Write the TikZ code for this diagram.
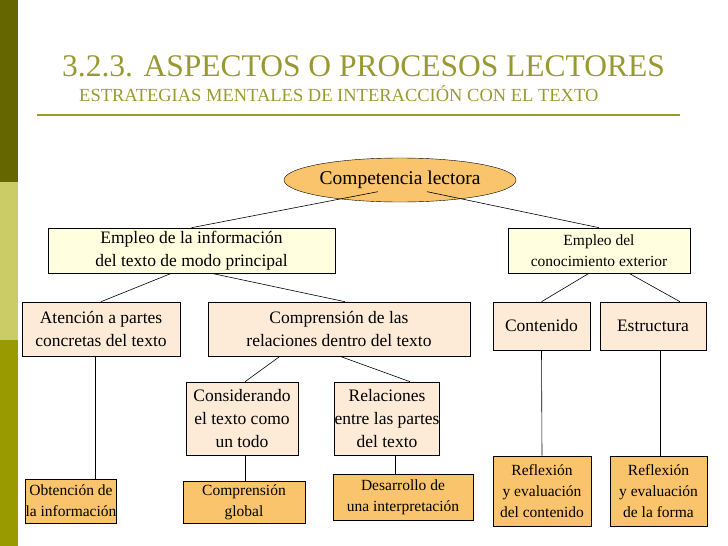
\documentclass[tikz,border=0pt]{standalone}
\usepackage{fontspec}
\setmainfont{Liberation Serif}
\usetikzlibrary{shapes.geometric}
\definecolor{olive}{HTML}{999933}
\definecolor{darkol}{HTML}{666600}
\definecolor{lightol}{HTML}{CCCC66}
\definecolor{midol}{HTML}{999900}
\definecolor{orng}{HTML}{F9C46B}
\definecolor{yel}{HTML}{FFFFE0}
\definecolor{pch}{HTML}{FDEBD7}
\begin{document}
\begin{tikzpicture}[x=1pt,y=-1pt,
  bx/.style={draw=black,line width=0.6pt,inner sep=0pt,align=center,font=\fontsize{17.5}{23}\selectfont},
  sm/.style={font=\fontsize{15.5}{21}\selectfont},
  ln/.style={draw=black,line width=0.6pt}]
\useasboundingbox (0,0) rectangle (728,546);
\fill[darkol] (0,0) rectangle (18,182);
\fill[lightol] (0,182) rectangle (18,340);
\fill[midol] (0,340) rectangle (18,546);
\node[text=olive,font=\fontsize{31.5}{34}\selectfont,anchor=west,inner sep=0pt] (t1) at (62,66) {3.2.3. ASPECTOS O PROCESOS LECTORES};
\node[text=olive,font=\fontsize{18.5}{20}\selectfont,anchor=west,inner sep=0pt] (t2) at (79,94) {ESTRATEGIAS MENTALES DE INTERACCIÓN CON EL TEXTO};
\draw[olive,line width=1.2pt] (37,115) -- (680,115);
\node[ellipse,draw,fill=orng,minimum width=232,minimum height=44,inner sep=0pt,font=\fontsize{19.5}{22}\selectfont] (cl) at (400,180) {Competencia lectora};
\node[bx,fill=yel,minimum width=287,minimum height=45] (ei) at (191.5,250.5) {Empleo de la información\\del texto de modo principal};
\node[bx,sm,fill=yel,minimum width=182,minimum height=45] (ec) at (599,250.5) {Empleo del\\conocimiento exterior};
\node[bx,fill=pch,minimum width=158,minimum height=54] (at) at (101,329) {Atención a partes\\concretas del texto};
\node[bx,fill=pch,minimum width=262,minimum height=54] (cr) at (339,329) {Comprensión de las\\relaciones dentro del texto};
\node[bx,fill=pch,minimum width=97,minimum height=48] (co) at (541.5,326) {Contenido};
\node[bx,fill=pch,minimum width=106,minimum height=48] (es) at (653,326) {Estructura};
\node[bx,fill=pch,minimum width=112,minimum height=73] (cd) at (242,418.5) {Considerando\\el texto como\\un todo};
\node[bx,fill=pch,minimum width=102,minimum height=73] (re) at (387,418.5) {Relaciones\\entre las partes\\del texto};
\node[bx,sm,fill=orng,minimum width=88,minimum height=44] (ob) at (71,501) {Obtención de\\la información};
\node[bx,sm,fill=orng,minimum width=122,minimum height=42] (cg) at (244,502) {Comprensión\\global};
\node[bx,sm,fill=orng,minimum width=140,minimum height=46] (de) at (403,497) {Desarrollo de\\una interpretación};
\node[bx,sm,fill=orng,minimum width=98,minimum height=70] (rc) at (542,491) {Reflexión\\y evaluación\\del contenido};
\node[bx,sm,fill=orng,minimum width=97,minimum height=70] (rf) at (658.5,491) {Reflexión\\y evaluación\\de la forma};
\draw[ln] (cl.south west) ++(60,-4) coordinate (c1) -- (ei.north);
\draw[ln] (cl.south east) ++(-55,-4) coordinate (c2) -- (ec.north);
\draw[ln] ([xshift=-20]ei.south) -- (at.north);
\draw[ln] ([xshift=20]ei.south) -- ([xshift=6]cr.north);
\draw[ln] ([xshift=-10]ec.south) -- (co.north);
\draw[ln] ([xshift=30]ec.south) -- ([xshift=27]es.north);
\draw[ln] ([xshift=-6]at.south) -- ([xshift=24]ob.north);
\draw[ln] ([xshift=-59]cr.south) -- ([xshift=3]cd.north);
\draw[ln] ([xshift=1]cr.south) -- ([xshift=23]re.north);
\draw[ln] ([xshift=3]cd.south) -- ([xshift=1]cg.north);
\draw[ln] ([xshift=8]re.south) -- ([xshift=-8]de.north);
\draw[ln] (co.south) -- (rc.north);
\draw[ln] ([xshift=7]es.south) -- ([xshift=1.5]rf.north);
\end{tikzpicture}
\end{document}
